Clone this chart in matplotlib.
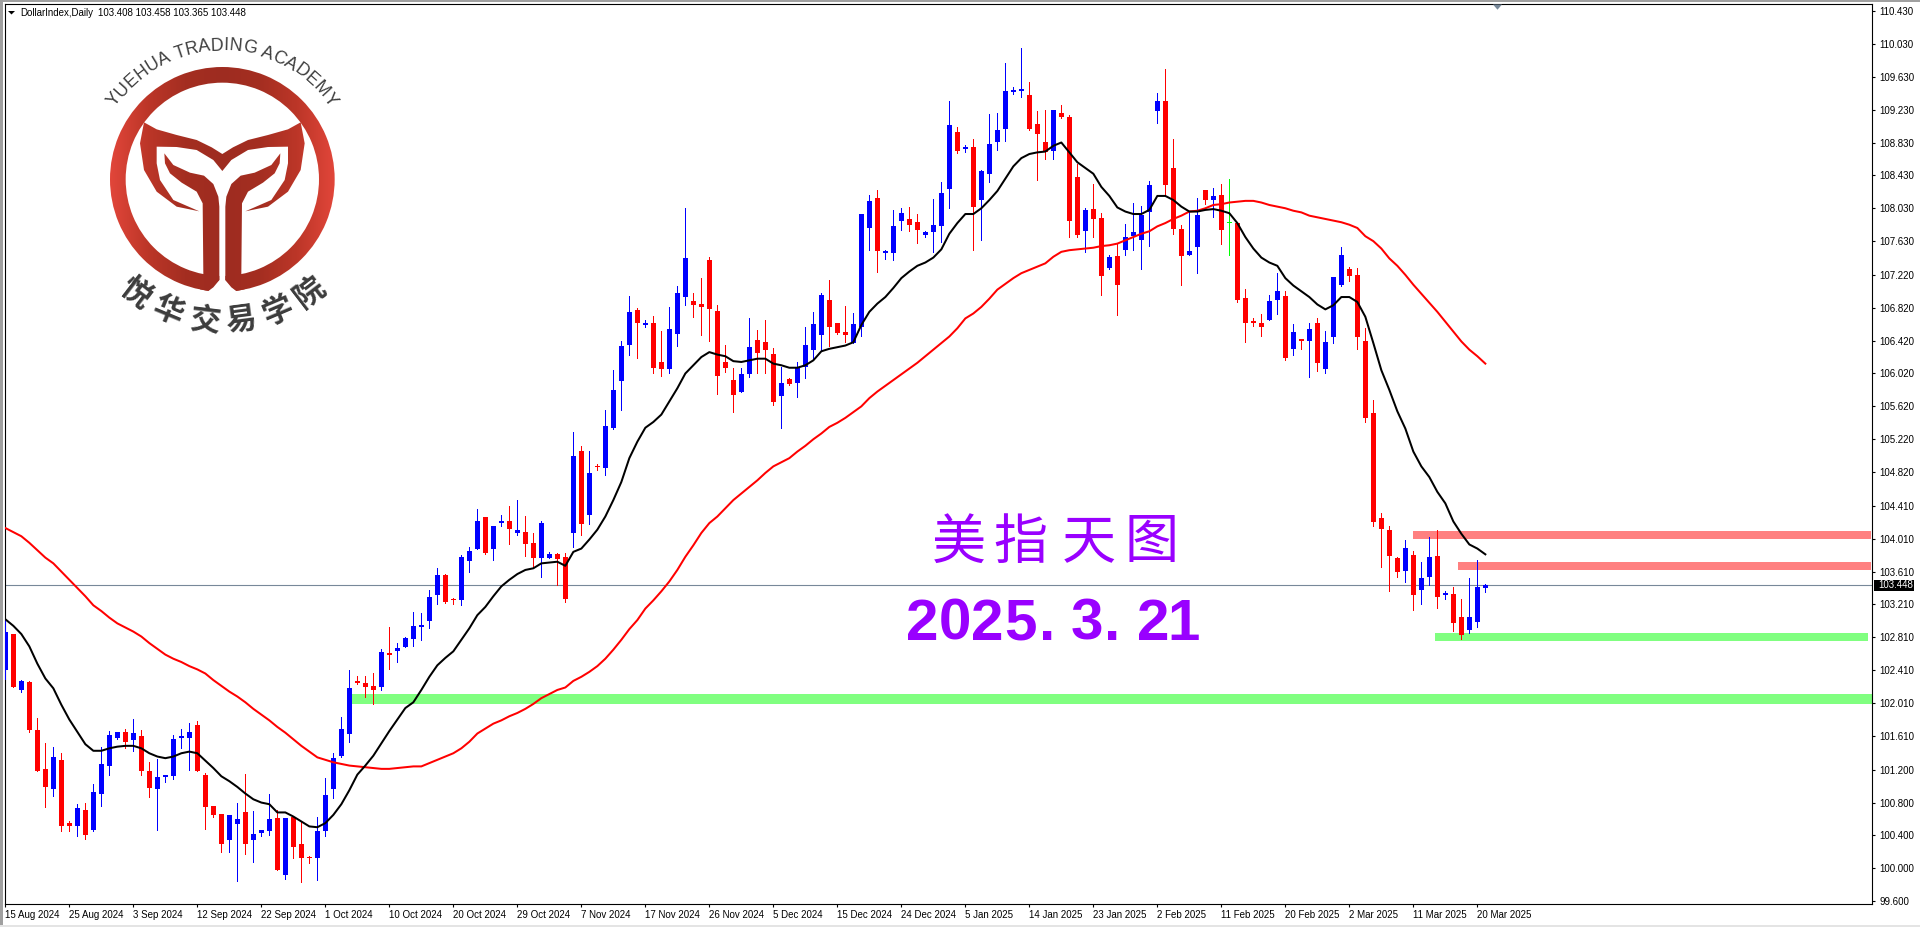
#!/usr/bin/env python3
"""Dollar index daily candles with two moving averages, zones and logo."""

import matplotlib
matplotlib.use("Agg")
import numpy as np
import matplotlib.pyplot as plt
from matplotlib.colors import LinearSegmentedColormap
from matplotlib.font_manager import FontProperties
from matplotlib.patches import Polygon, Wedge, Rectangle
from matplotlib.textpath import TextToPath

plt.rcParams["font.family"] = ["Liberation Sans", "Noto Sans CJK SC", "DejaVu Sans"]

# ── Data ──────────────────────────────────────────────────────────────────
opens = [
    102.41,102.85,102.17,102.27,101.68,101.21,100.97,101.32,100.55,100.51,
    100.71,100.47,100.91,101.24,101.59,101.66,101.56,101.61,101.18,100.97,
    101.11,101.12,101.58,101.58,101.74,101.14,100.76,100.66,100.35,100.54,
    100.69,100.35,100.43,100.46,100.61,99.92,100.63,100.30,100.13,100.12,
    100.45,100.96,101.37,101.64,102.28,102.26,102.22,102.21,102.62,102.64,
    102.69,102.79,102.94,103.01,103.32,103.57,103.27,103.26,103.74,103.89,
    104.27,103.88,104.20,104.23,104.08,104.09,103.96,103.77,103.77,103.82,
    103.79,104.08,105.08,104.30,104.89,104.87,105.36,105.93,106.37,106.79,
    106.61,106.63,106.16,106.08,106.50,106.95,106.90,106.87,107.40,106.78,
    106.16,105.94,105.79,106.01,106.43,106.40,106.26,105.75,105.95,105.90,
    106.10,106.31,106.49,106.91,106.63,106.52,106.39,106.59,107.79,108.15,
    107.49,107.49,107.88,107.90,107.86,107.70,107.74,107.81,108.27,108.96,
    108.75,108.78,108.13,108.45,108.84,109.00,109.45,109.46,109.41,109.06,
    108.84,108.73,109.19,109.14,108.41,107.75,108.02,107.91,107.30,107.45,
    107.52,107.69,107.65,107.99,109.21,109.33,108.52,107.78,107.46,107.56,
    108.25,108.13,108.19,107.85,107.85,106.94,106.65,106.63,106.67,106.91,
    106.96,106.32,106.44,106.41,106.63,106.08,106.46,107.10,107.29,107.22,
    106.42,105.54,104.26,104.12,103.78,103.62,103.81,103.39,103.54,103.80,
    103.33,103.34,103.06,102.90,103.00,103.408,
]
highs = [
    103.03,102.85,102.29,102.28,101.83,101.52,101.48,101.40,100.58,100.78,
    100.80,101.03,101.48,101.67,101.66,101.70,101.82,101.68,101.29,101.33,
    101.14,101.62,101.70,101.77,101.79,101.16,100.76,100.66,100.65,100.80,
    101.15,100.70,100.47,100.91,100.71,100.61,100.64,100.57,100.15,100.63,
    101.10,101.40,101.84,102.41,102.34,102.34,102.38,102.67,102.94,102.74,
    102.81,103.12,103.11,103.39,103.65,103.58,103.29,103.81,103.91,104.37,
    104.27,104.16,104.30,104.41,104.48,104.29,104.08,104.23,103.85,103.84,
    103.84,105.31,105.14,105.08,104.92,105.58,106.06,106.42,106.96,106.82,
    106.67,106.72,106.54,106.83,107.08,108.03,107.00,107.18,107.44,106.85,
    106.37,106.09,106.09,106.70,106.55,106.67,106.33,106.10,105.97,106.16,
    106.59,106.77,107.00,107.16,106.63,106.84,106.76,107.96,108.19,108.25,
    107.52,108.01,108.03,108.05,107.96,107.75,108.14,108.35,109.33,109.02,
    108.80,108.87,108.50,109.18,109.19,109.80,109.51,109.98,109.57,109.21,
    109.23,109.23,109.29,109.16,108.57,108.03,108.33,107.97,107.46,107.60,
    107.84,108.09,108.06,108.36,109.43,109.72,108.87,107.83,108.00,108.15,
    108.25,108.28,108.33,108.39,107.85,107.05,106.70,106.74,106.97,107.24,
    107.02,106.62,106.44,106.63,106.70,106.54,107.19,107.56,107.32,107.30,
    106.57,105.70,104.32,104.16,103.79,103.99,103.86,103.73,104.03,104.12,
    103.37,103.42,103.28,103.53,103.75,103.458,
]
lows = [
    102.30,102.20,102.15,101.66,101.18,100.74,100.88,100.45,100.46,100.39,
    100.36,100.46,100.76,101.13,101.57,101.46,101.43,101.13,100.87,100.47,
    101.05,101.09,101.46,101.20,101.18,100.48,100.63,100.20,100.20,99.84,
    100.18,100.08,100.39,100.40,99.98,99.87,100.13,99.83,100.07,99.86,
    100.39,100.85,101.36,101.54,102.24,102.08,102.00,102.17,102.42,102.51,
    102.69,102.71,102.78,102.92,103.21,103.23,103.22,103.20,103.61,103.89,
    103.83,103.75,104.17,103.95,104.05,103.80,103.66,103.54,103.77,103.45,
    103.24,103.91,104.05,104.19,104.84,104.79,105.35,105.58,106.25,106.21,
    106.59,106.02,105.99,106.03,106.36,106.85,106.71,106.49,106.42,105.77,
    106.04,105.55,105.79,105.98,106.02,106.02,105.64,105.36,105.88,105.74,
    105.97,106.20,106.31,106.35,106.50,106.40,106.39,106.48,107.52,107.25,
    107.41,107.40,107.77,107.75,107.61,107.68,107.50,107.62,108.03,108.70,
    108.71,107.52,107.64,108.35,108.74,108.85,109.42,109.38,108.98,108.37,
    108.63,108.63,109.13,107.68,107.68,107.50,107.68,106.97,107.29,106.73,
    107.46,107.52,107.29,107.57,109.07,108.18,107.72,107.10,107.46,107.24,
    108.08,107.92,107.60,107.46,106.89,106.40,106.60,106.47,106.67,106.74,
    106.18,106.25,106.32,105.98,106.05,106.03,106.39,107.08,107.14,106.32,
    105.43,104.17,103.67,103.37,103.54,103.48,103.14,103.22,103.45,103.17,
    103.28,102.89,102.79,102.86,102.94,103.365,
]
closes = [
    102.87,102.20,102.28,101.68,101.19,100.99,101.36,100.51,100.51,100.73,
    100.41,100.93,101.27,101.62,101.66,101.54,101.65,101.19,100.98,101.11,
    101.14,101.57,101.61,101.66,101.19,100.74,100.65,100.29,100.65,100.60,
    100.30,100.42,100.47,100.60,99.98,100.61,100.26,100.13,100.12,100.45,
    100.89,101.34,101.70,102.19,102.25,102.21,102.17,102.63,102.60,102.68,
    102.80,102.95,102.96,103.30,103.57,103.24,103.26,103.79,103.86,104.23,
    103.84,104.16,104.23,104.13,104.12,103.95,103.77,104.20,103.82,103.76,
    103.28,105.02,104.19,104.81,104.88,105.38,105.82,106.35,106.77,106.63,
    106.63,106.09,106.07,106.56,107.00,107.42,106.85,106.83,106.80,105.99,
    106.09,105.76,106.01,106.34,106.27,106.31,105.67,105.90,105.89,106.09,
    106.37,106.62,106.97,106.58,106.51,106.49,106.62,107.96,108.12,107.51,
    107.51,107.81,107.97,107.83,107.77,107.74,107.83,108.22,109.04,108.73,
    108.78,108.04,108.48,108.81,108.98,109.46,109.47,109.48,108.99,108.93,
    108.72,109.23,109.14,107.87,107.71,108.01,107.90,107.21,107.44,107.10,
    107.68,107.74,107.95,108.31,109.33,108.31,107.78,107.45,107.51,107.95,
    108.13,108.18,107.76,107.85,106.92,106.64,106.64,106.58,106.90,107.02,
    106.21,106.52,106.42,106.56,106.15,106.40,107.19,107.46,107.21,106.46,
    105.48,104.21,104.13,103.80,103.61,103.90,103.33,103.53,103.79,103.30,
    103.35,102.98,102.84,103.06,103.42,103.448,
]
ma_fast = [
    103.03,102.95,102.85,102.70,102.49,102.31,102.19,101.99,101.81,101.66,
    101.51,101.43,101.43,101.46,101.48,101.49,101.49,101.46,101.40,101.36,
    101.34,101.36,101.40,101.42,101.40,101.31,101.22,101.12,101.06,100.99,
    100.91,100.84,100.80,100.78,100.68,100.68,100.63,100.57,100.51,100.50,
    100.55,100.65,100.78,100.95,101.14,101.25,101.37,101.52,101.67,101.81,
    101.95,102.02,102.17,102.33,102.47,102.56,102.64,102.78,102.92,103.08,
    103.18,103.31,103.43,103.51,103.58,103.63,103.65,103.71,103.72,103.73,
    103.68,103.85,103.89,104.00,104.12,104.28,104.48,104.70,104.99,105.19,
    105.36,105.43,105.52,105.68,105.84,106.02,106.12,106.22,106.28,106.25,
    106.23,106.17,106.16,106.18,106.20,106.20,106.14,106.12,106.09,106.09,
    106.12,106.18,106.29,106.32,106.34,106.36,106.40,106.61,106.77,106.87,
    106.95,107.06,107.18,107.26,107.33,107.37,107.43,107.53,107.72,107.85,
    107.96,107.96,108.03,108.13,108.24,108.39,108.54,108.64,108.69,108.71,
    108.72,108.79,108.83,108.71,108.59,108.52,108.45,108.29,108.18,108.04,
    107.99,107.96,107.96,108.01,108.18,108.18,108.13,108.05,107.99,107.99,
    108.01,108.02,108.00,107.97,107.85,107.68,107.54,107.43,107.37,107.33,
    107.18,107.09,107.02,106.95,106.86,106.80,106.85,106.95,106.95,106.89,
    106.71,106.39,106.06,105.82,105.56,105.35,105.07,104.89,104.76,104.58,
    104.44,104.22,104.07,103.94,103.89,103.82,
]
ma_slow = [
    104.14,104.09,104.04,103.96,103.87,103.78,103.71,103.61,103.51,103.41,
    103.31,103.20,103.13,103.05,102.98,102.93,102.88,102.82,102.74,102.67,
    102.60,102.55,102.51,102.46,102.42,102.37,102.29,102.22,102.15,102.09,
    102.02,101.94,101.87,101.80,101.72,101.65,101.57,101.49,101.42,101.35,
    101.32,101.29,101.27,101.25,101.24,101.23,101.22,101.21,101.21,101.22,
    101.23,101.24,101.24,101.28,101.32,101.36,101.40,101.46,101.54,101.64,
    101.70,101.76,101.80,101.85,101.89,101.94,102.00,102.07,102.12,102.17,
    102.20,102.28,102.33,102.39,102.46,102.55,102.66,102.78,102.91,103.02,
    103.16,103.26,103.37,103.49,103.63,103.79,103.93,104.08,104.20,104.28,
    104.38,104.48,104.56,104.64,104.72,104.81,104.89,104.94,104.99,105.07,
    105.14,105.22,105.29,105.37,105.42,105.48,105.55,105.62,105.72,105.80,
    105.87,105.94,106.01,106.08,106.15,106.23,106.31,106.39,106.47,106.57,
    106.69,106.75,106.83,106.93,107.04,107.11,107.18,107.24,107.28,107.32,
    107.36,107.44,107.50,107.52,107.53,107.54,107.55,107.57,107.58,107.60,
    107.64,107.68,107.72,107.75,107.81,107.85,107.90,107.94,107.99,108.00,
    108.03,108.07,108.08,108.10,108.11,108.12,108.12,108.10,108.07,108.05,
    108.03,108.00,107.98,107.94,107.92,107.90,107.88,107.86,107.83,107.79,
    107.69,107.63,107.54,107.42,107.33,107.22,107.10,106.99,106.88,106.77,
    106.65,106.53,106.41,106.31,106.23,106.14,
]

date_ticks = [0, 8, 16, 24, 32, 40, 48, 56, 64, 72, 80, 88, 96, 104, 112, 120,
              128, 136, 144, 152, 160, 168, 176, 184]
date_labels = ["15 Aug 2024", "25 Aug 2024", "3 Sep 2024", "12 Sep 2024",
               "22 Sep 2024", "1 Oct 2024", "10 Oct 2024", "20 Oct 2024",
               "29 Oct 2024", "7 Nov 2024", "17 Nov 2024", "26 Nov 2024",
               "5 Dec 2024", "15 Dec 2024", "24 Dec 2024", "5 Jan 2025",
               "14 Jan 2025", "23 Jan 2025", "2 Feb 2025", "11 Feb 2025",
               "20 Feb 2025", "2 Mar 2025", "11 Mar 2025", "20 Mar 2025"]
price_ticks = [110.43, 110.03, 109.63, 109.23, 108.83, 108.43, 108.03, 107.63,
               107.22, 106.82, 106.42, 106.02, 105.62, 105.22, 104.82, 104.41,
               104.01, 103.61, 103.21, 102.81, 102.41, 102.01, 101.61, 101.20,
               100.80, 100.40, 100.00, 99.60]
last_price = 103.448

# start index, end index, low price, high price
resistance_zones = [(175.95, 233.2, 104.006, 104.104),
                    (181.6, 233.2, 103.629, 103.726)]
support_zones = [(178.7, 232.8, 102.765, 102.863),
                 (43.3, 233.4, 102.003, 102.117)]

FIG_W, FIG_H = 1920, 927
LABEL_PT = 7.0
UP, DOWN, FLAT = "#0000FF", "#FF0000", "#00FF00"
PURPLE = "#9900FF"
SLATE = "#778899"

# ── Chart ─────────────────────────────────────────────────────────────────
fig = plt.figure(figsize=(FIG_W / 100, FIG_H / 100), dpi=100, facecolor="white")
left, right, top, bottom = 4.7, 1872.3, 4.0, 904.0
ax = fig.add_axes([left / FIG_W, 1 - bottom / FIG_H,
                   (right - left) / FIG_W, (bottom - top) / FIG_H])
ax.set_xlim(-0.08, 233.37)
ax.set_ylim(99.566, 110.515)

for x0, x1, y0, y1 in resistance_zones:
    ax.add_patch(Rectangle((x0, y0), x1 - x0, y1 - y0, fc="#FF8080", lw=0, zorder=1))
for x0, x1, y0, y1 in support_zones:
    ax.add_patch(Rectangle((x0, y0), x1 - x0, y1 - y0, fc="#80FF80", lw=0, zorder=1))

ax.axhline(last_price, color=SLATE, lw=0.8, zorder=2)

o, h, l, c = map(np.array, (opens, highs, lows, closes))
xs = np.arange(len(o))
colors = [UP if b > a else DOWN if b < a else FLAT for a, b in zip(o, c)]
ax.vlines(xs, l, h, colors=colors, lw=0.72, antialiased=False, zorder=3)
body_bottom = np.minimum(o, c)
body_height = np.maximum(np.abs(c - o), 0.014)
ax.bar(xs, body_height, width=0.66, bottom=body_bottom, color=colors,
       lw=0, antialiased=False, zorder=4)

ax.plot(xs, ma_slow, color="#FF0000", lw=1.45, zorder=5)
ax.plot(xs, ma_fast, color="#000000", lw=1.45, zorder=5)

for spine in ax.spines.values():
    spine.set_linewidth(0.8)
ax.yaxis.tick_right()
ax.set_yticks(price_ticks)
ax.set_yticklabels([f"{p:.3f}" for p in price_ticks])
ax.set_xticks(date_ticks)
ax.set_xticklabels(date_labels, ha="left")
ax.tick_params(axis="y", length=2.5, width=0.8, pad=2.5, labelsize=LABEL_PT)
ax.tick_params(axis="x", length=2.5, width=0.8, pad=1.5, labelsize=LABEL_PT)

# ── Overlay in pixel coordinates: frame, header, titles, logo ─────────────
ov = fig.add_axes([0, 0, 1, 1], zorder=10)
ov.set_xlim(0, FIG_W)
ov.set_ylim(FIG_H, 0)
ov.axis("off")
ov.patch.set_alpha(0)

ov.add_patch(Rectangle((0, 0), FIG_W, 1.5, fc="#A0A0A0", lw=0))
ov.add_patch(Rectangle((0, 0), 2.5, FIG_H, fc="#A0A0A0", lw=0))
ov.add_patch(Rectangle((0, 925), FIG_W, 2, fc="#E4E4E4", lw=0))

ov.add_patch(Polygon([(8, 11), (15, 11), (11.5, 14.5)], fc="black", lw=0))
ov.text(20.5, 12.5, "DollarIndex,Daily", fontsize=LABEL_PT, va="center", ha="left")
ov.text(98, 12.5, "103.408 103.458 103.365 103.448", fontsize=LABEL_PT,
        va="center", ha="left")
ov.add_patch(Polygon([(1493, 4.5), (1502, 4.5), (1497.5, 9.7)], fc=SLATE, lw=0))

ov.add_patch(Rectangle((1874, 580), 40, 11, fc="black", lw=0))
ov.text(1878.5, 585.5, f"{last_price:.3f}", color="white", fontsize=LABEL_PT,
        va="center", ha="left")

for ch, cx in zip("美指天图", [959, 1020, 1089, 1152]):
    ov.text(cx, 543, ch, color=PURPLE, fontsize=39, fontweight="medium",
            family=["Noto Sans CJK SC"], ha="center", va="center")
for ch, cx in zip("2025.3.21", [922.5, 955, 987.5, 1020, 1047, 1087, 1111.7, 1153, 1184]):
    ov.text(cx, 625, ch, color=PURPLE, fontsize=42, fontweight="bold",
            ha="center", va="center")


# ── Logo (points taken in 3x zoom coordinates) ────────────────────────────
LOGO_CX, LOGO_CY = 667 / 3, 538 / 3
logo_cmap = LinearSegmentedColormap.from_list(
    "logo", ["#E2463A", "#BC3628", "#A42E21", "#9E2C20", "#A42E21", "#BC3628", "#E2463A"])
gradient = np.linspace(0, 1, 256).reshape(1, -1)


def gradient_fill(patch, zorder):
    patch.set_transform(ov.transData)
    im = ov.imshow(gradient, cmap=logo_cmap, aspect="auto", zorder=zorder,
                   extent=(330 / 3, 1003 / 3, 300, 60), interpolation="bilinear")
    im.set_clip_path(patch)


def scaled(points):
    return [(x / 3, y / 3) for x, y in points]


def mirrored(points):
    return [(1334 - x, y) for x, y in points]


gradient_fill(Wedge((LOGO_CX, LOGO_CY), 337 / 3, 0, 360, width=47 / 3), 2)
ov.add_patch(Polygon(scaled([(658, 620), (676, 620), (676, 840), (709, 873), (709, 895),
                             (625, 895), (625, 873), (658, 840)]),
                     fc="white", lw=0, zorder=3))

bowl_top = [(432, 367), (470, 388), (530, 405), (590, 420), (635, 442), (667, 462)]
bowl_under = [(420, 430), (432, 510), (470, 575), (530, 620), (598, 634), (520, 600),
              (480, 540), (470, 490), (470, 440), (530, 441), (590, 450), (640, 480),
              (667, 513)]
bowl = bowl_top + mirrored(bowl_top)[-2::-1] + mirrored(bowl_under) + bowl_under[-2::-1]
gradient_fill(Polygon(scaled(bowl)), 4)

stem = [(493, 460), (520, 495), (570, 518), (612, 527), (640, 552), (655, 590), (658, 620),
        (658, 840), (640, 862), (625, 873), (600, 868), (610, 822), (608, 610), (590, 575),
        (545, 548), (510, 520), (495, 490)]
gradient_fill(Polygon(scaled(stem)), 4)
gradient_fill(Polygon(scaled(mirrored(stem))), 4)

ov.set_xlim(0, FIG_W)
ov.set_ylim(FIG_H, 0)


def arc_text(text, radius, half_angle, fontsize):
    """Spread text along the arc over the logo, letter by letter."""
    prop = FontProperties(family="Liberation Sans", size=fontsize)
    ttp = TextToPath()
    widths = [ttp.get_text_width_height_descent(ch, prop, False)[0] for ch in text]
    edges = np.cumsum([0] + widths)
    mids = (edges[:-1] + edges[1:]) / 2
    span = mids[-1] - mids[0]
    for ch, mid in zip(text, mids):
        deg = -half_angle + 2 * half_angle * (mid - mids[0]) / span
        rad = np.radians(deg)
        ov.text(LOGO_CX + radius * np.sin(rad), LOGO_CY - radius * np.cos(rad), ch,
                fontproperties=prop, color="#3F3F3F", rotation=-deg,
                rotation_mode="anchor", ha="center", va="center", zorder=5)


arc_text("YUEHUA TRADING ACADEMY", 401 / 3, 53.5, 12.8)

for ch, deg in zip("悦华交易学院", [37.4, 22.6, 7.0, -7.5, -23, -37.5]):
    rad = np.radians(deg)
    ov.text(LOGO_CX - 428 / 3 * np.sin(rad), LOGO_CY + 428 / 3 * np.cos(rad), ch,
            color="#3C3C3C", fontsize=22, fontweight="bold", family=["Noto Sans CJK SC"],
            rotation=-deg, rotation_mode="anchor", ha="center", va="center", zorder=5)

fig.savefig("out.png", dpi=100)
